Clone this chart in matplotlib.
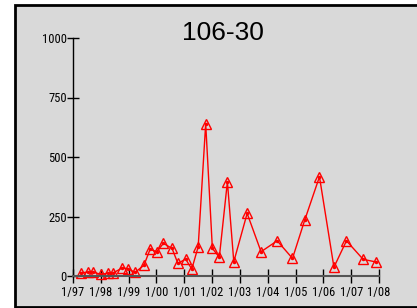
import matplotlib
matplotlib.use('agg')
import matplotlib.pyplot as plt
from matplotlib.patches import Rectangle

# decimal year of each sample and its value
years = [1997.28, 1997.55, 1997.73, 1998.01, 1998.27, 1998.43, 1998.77, 1998.99,
         1999.23, 1999.55, 1999.77, 2000.01, 2000.25, 2000.56, 2000.77, 2001.05,
         2001.27, 2001.50, 2001.77, 2002.01, 2002.26, 2002.55, 2002.78, 2003.26,
         2003.76, 2004.34, 2004.89, 2005.33, 2005.86, 2006.38, 2006.83, 2007.43,
         2007.89]
values = [14, 16, 16, 7, 12, 12, 34, 30,
          15, 45, 112, 102, 137, 116, 53, 71,
          29, 123, 640, 116, 79, 396, 60, 263,
          102, 148, 74, 235, 417, 37, 148, 70,
          59]
tick_years = list(range(1997, 2009))
tick_labels = ['1/97', '1/98', '1/99', '1/00', '1/01', '1/02', '1/03',
               '1/04', '1/05', '1/06', '1/07', '1/08']
y_ticks = [0, 250, 500, 750, 1000]
title = '106-30'

plt.rcParams['font.family'] = ['Roboto Condensed', 'Liberation Sans', 'DejaVu Sans']

fig = plt.figure(figsize=(4.17, 3.08), dpi=100, facecolor='white')
# grey panel with black frame, kept behind the axes
panel = Rectangle((15 / 417, 1 / 308), 1.0, 302 / 308, transform=fig.transFigure,
                  facecolor='#d9d9d9', edgecolor='black', linewidth=2, zorder=-10)
fig.patches.append(panel)

ax = fig.add_axes([73 / 417, 32 / 308, 306 / 417, 238 / 308])
ax.set_zorder(5)
ax.set_facecolor('none')
ax.plot(years, values, color='red', linewidth=1, marker='^', markersize=7,
        markerfacecolor='none', markeredgecolor='red', markeredgewidth=1, clip_on=False)
ax.plot(years, values, linestyle='none', marker='o', markersize=1.5, color='red', clip_on=False)

ax.set_xlim(1997, 2008)
ax.set_ylim(0, 1000)
ax.set_xticks(tick_years)
ax.set_xticklabels(tick_labels)
ax.set_yticks(y_ticks)
ax.set_yticklabels([str(v) for v in y_ticks])
for s in ['top', 'right']:
    ax.spines[s].set_visible(False)
ax.spines['left'].set_color('black')
ax.spines['bottom'].set_color('#555555')
ax.spines['left'].set_linewidth(1)
ax.spines['bottom'].set_linewidth(1.5)
ax.tick_params(axis='both', direction='inout', width=1, labelsize=9)
ax.tick_params(axis='x', length=10, pad=2)
ax.tick_params(axis='y', length=9, pad=0)

fig.text(223 / 417, (308 - 33) / 308, title, fontsize=19, ha='center', va='center',
         family=['Liberation Sans', 'DejaVu Sans'], zorder=6)

fig.savefig('out.png', dpi=100)
